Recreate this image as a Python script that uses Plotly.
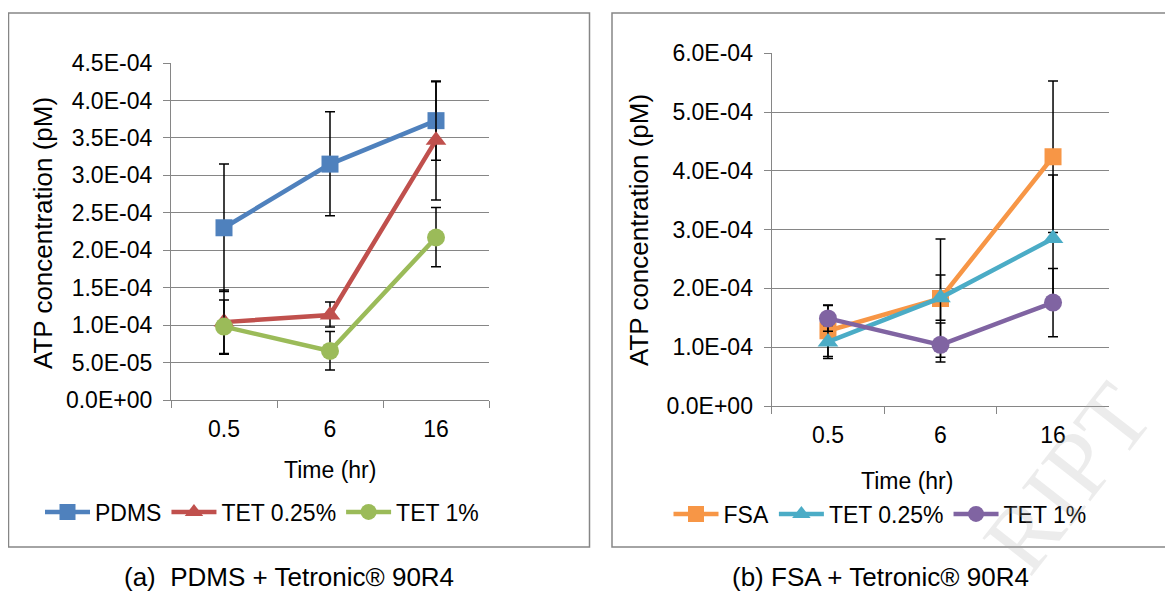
import plotly.graph_objects as go

# ---------------- data ----------------
times = ["0.5", "6", "16"]

# Panel (a): PDMS + Tetronic 90R4
a_names = ["PDMS", "TET 0.25%", "TET 1%"]
a_pdms = [2.30e-4, 3.15e-4, 3.73e-4]
a_pdms_up = [0.85e-4, 0.70e-4, 0.53e-4]
a_pdms_dn = [0.85e-4, 0.69e-4, 0.53e-4]
a_tet025 = [1.04e-4, 1.135e-4, 3.47e-4]
a_tet025_up = [0.43e-4, 0.175e-4, 0.78e-4]
a_tet025_dn = [0.43e-4, 0.16e-4, 0.80e-4]
a_tet1 = [0.98e-4, 0.655e-4, 2.17e-4]
a_tet1_up = [0.355e-4, 0.26e-4, 0.40e-4]
a_tet1_dn = [0.36e-4, 0.255e-4, 0.39e-4]

# Panel (b): FSA + Tetronic 90R4
b_names = ["FSA", "TET 0.25%", "TET 1%"]
b_fsa = [1.28e-4, 1.83e-4, 4.24e-4]
b_fsa_up = [0.44e-4, 1.01e-4, 1.29e-4]
b_fsa_dn = [0.44e-4, 1.00e-4, 1.29e-4]
b_tet025 = [1.09e-4, 1.84e-4, 2.85e-4]
b_tet025_up = [0.28e-4, 0.39e-4, 1.08e-4]
b_tet025_dn = [0.28e-4, 0.38e-4, 1.08e-4]
b_tet1 = [1.49e-4, 1.04e-4, 1.76e-4]
b_tet1_up = [0.22e-4, 0.37e-4, 0.58e-4]
b_tet1_dn = [0.22e-4, 0.29e-4, 0.58e-4]

a_tickvals = [0, 0.5e-4, 1.0e-4, 1.5e-4, 2.0e-4, 2.5e-4, 3.0e-4, 3.5e-4, 4.0e-4, 4.5e-4]
a_ticktext = ["0.0E+00", "5.0E-05", "1.0E-04", "1.5E-04", "2.0E-04", "2.5E-04",
              "3.0E-04", "3.5E-04", "4.0E-04", "4.5E-04"]
b_tickvals = [0, 1e-4, 2e-4, 3e-4, 4e-4, 5e-4, 6e-4]
b_ticktext = ["0.0E+00", "1.0E-04", "2.0E-04", "3.0E-04", "4.0E-04", "5.0E-04", "6.0E-04"]

y_title = "ATP concentration (pM)"
x_title = "Time (hr)"
cap_a = "(a)&nbsp;&nbsp;PDMS + Tetronic® 90R4"
cap_b = "(b) FSA + Tetronic® 90R4"

# ---------------- style ----------------
PAGE_W, PAGE_H = 1173, 594
OFF = 8  # default page body margin
W, H = PAGE_W - OFF, PAGE_H - OFF
FONT = "Liberation Sans, Arial, sans-serif"
FS = 23
FS_YT = 26
FS_CAP = 26
GRID = "#868686"
colors_a = ["#4F81BD", "#C0504D", "#9BBB59"]
colors_b = ["#F79646", "#4BACC6", "#8064A2"]
symbols = ["square", "triangle-up", "circle"]
sizes = [17, 18, 18]


def px(x):
    return (x - OFF) / W


def py(y):
    return 1 - (y - OFF) / H


fig = go.Figure()

series_a = [(a_pdms, a_pdms_up, a_pdms_dn), (a_tet025, a_tet025_up, a_tet025_dn),
            (a_tet1, a_tet1_up, a_tet1_dn)]
series_b = [(b_fsa, b_fsa_up, b_fsa_dn), (b_tet025, b_tet025_up, b_tet025_dn),
            (b_tet1, b_tet1_up, b_tet1_dn)]

for i, (vals, up, dn) in enumerate(series_a):
    fig.add_trace(go.Scatter(
        x=times, y=vals, name=a_names[i], mode="lines+markers",
        line=dict(color=colors_a[i], width=4.5),
        marker=dict(symbol=symbols[i], size=sizes[i], color=colors_a[i], line=dict(width=0)),
        error_y=dict(type="data", symmetric=False, array=up, arrayminus=dn,
                     color="black", thickness=1.5, width=5),
        xaxis="x", yaxis="y", legend="legend"))

for i, (vals, up, dn) in enumerate(series_b):
    fig.add_trace(go.Scatter(
        x=times, y=vals, name=b_names[i], mode="lines+markers",
        line=dict(color=colors_b[i], width=4.5),
        marker=dict(symbol=symbols[i], size=sizes[i], color=colors_b[i], line=dict(width=0)),
        error_y=dict(type="data", symmetric=False, array=up, arrayminus=dn,
                     color="black", thickness=1.5, width=5),
        xaxis="x2", yaxis="y2", legend="legend2"))

xaxis_common = dict(type="category", tickson="boundaries", ticks="outside", ticklen=7,
                    tickcolor=GRID, tickwidth=1.3, showline=True, linecolor=GRID,
                    linewidth=1.3, showgrid=False, zeroline=False,
                    tickfont=dict(family=FONT, size=FS, color="black"),
                    ticklabelstandoff=8, fixedrange=True, automargin=False)
yaxis_common = dict(ticks="outside", ticklen=7, tickcolor=GRID, tickwidth=1.3,
                    showline=True, linecolor=GRID, linewidth=1.3,
                    showgrid=True, gridcolor=GRID, gridwidth=1.3, zeroline=False,
                    tickfont=dict(family=FONT, size=FS, color="black"),
                    ticklabelstandoff=6, fixedrange=True, automargin=False)

legend_common = dict(orientation="h", xanchor="center", yanchor="middle",
                     font=dict(family=FONT, size=FS, color="black"),
                     itemwidth=45, bgcolor="rgba(0,0,0,0)", itemclick=False)

fig.update_layout(
    width=W, height=H, autosize=False,
    margin=dict(l=0, r=0, t=0, b=0, pad=0, autoexpand=False),
    paper_bgcolor="white", plot_bgcolor="white",
    font=dict(family=FONT, size=FS, color="black"),
    xaxis=dict(domain=[px(171), px(489)], anchor="y", range=[-0.5, 2.5], **xaxis_common),
    yaxis=dict(domain=[py(400), py(63)], anchor="x", range=[0, 4.5e-4],
               tickvals=a_tickvals, ticktext=a_ticktext, **yaxis_common),
    xaxis2=dict(domain=[px(771.7), px(1109.3)], anchor="y2", range=[-0.5, 2.5], **xaxis_common),
    yaxis2=dict(domain=[py(406), py(53.3)], anchor="x2", range=[0, 6e-4],
                tickvals=b_tickvals, ticktext=b_ticktext, **yaxis_common),
    legend=dict(x=px(262), y=py(512), **legend_common),
    legend2=dict(x=px(880), y=py(514), **legend_common),
    showlegend=True,
)

# panel frames
fig.add_shape(type="rect", xref="paper", yref="paper", x0=px(8.5), x1=px(589.5),
              y0=py(547), y1=py(13), line=dict(color=GRID, width=1.5), layer="below")
fig.add_shape(type="rect", xref="paper", yref="paper", x0=px(612), x1=px(1180),
              y0=py(547), y1=py(13), line=dict(color=GRID, width=1.5), layer="below")

ann = [
    dict(text=y_title, x=px(43), y=py(233), textangle=-90, size=FS_YT),
    dict(text=x_title, x=px(330), y=py(470), size=FS),
    dict(text=y_title, x=px(639), y=py(230), textangle=-90, size=FS_YT),
    dict(text=x_title, x=px(907), y=py(481), size=FS),
    dict(text=cap_a, x=px(289), y=py(577), size=FS_CAP),
    dict(text=cap_b, x=px(880), y=py(577), size=FS_CAP),
]
for a in ann:
    size = a.pop("size")
    fig.add_annotation(xref="paper", yref="paper", showarrow=False,
                       xanchor="center", yanchor="middle",
                       font=dict(family=FONT, size=size, color="black"), **a)

# faint watermark fragment
fig.add_annotation(xref="paper", yref="paper", showarrow=False, text="RIPT",
                   x=px(1068), y=py(478), xanchor="center", yanchor="middle",
                   textangle=-52,
                   font=dict(family="Liberation Serif, serif", size=95,
                             color="rgba(170,170,170,0.22)"))

fig.write_html("out.html")
